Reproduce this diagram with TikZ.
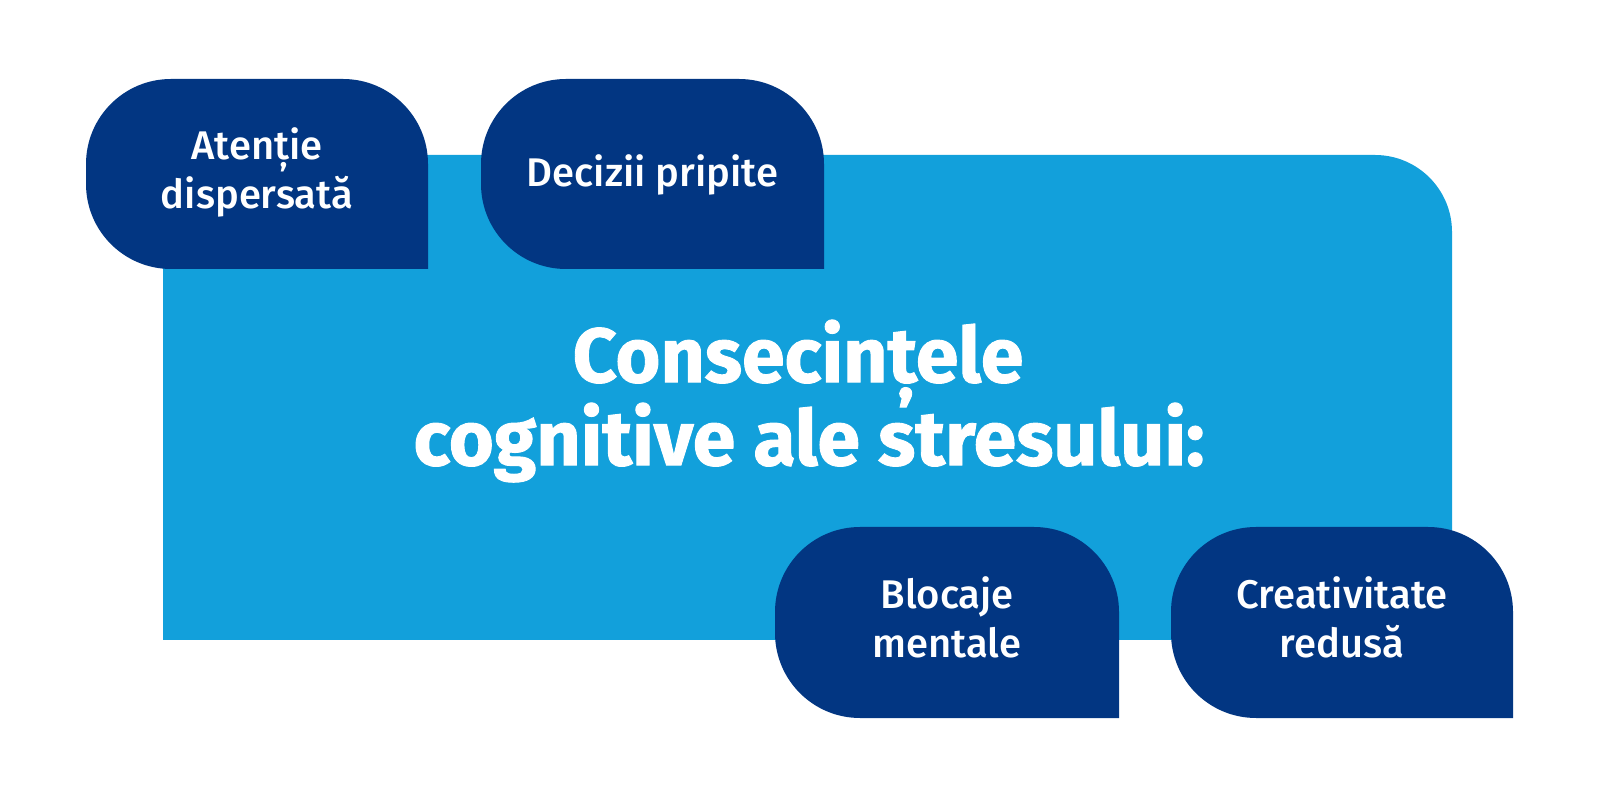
\documentclass[tikz,border=0pt]{standalone}
\usepackage{fontspec}
\setmainfont{Fira Sans}
\newfontfamily\smallfont{Fira Sans Medium}
\newfontfamily\titlefont{Fira Sans}[FakeBold=1.2]
\definecolor{lightblue}{HTML}{12A0DB}
\definecolor{darkblue}{HTML}{023682}
\newcommand{\sst}{\rule[-6pt]{0pt}{17pt}}
\newcommand{\tst}{\rule[-14pt]{0pt}{36pt}}
\tikzset{
  x=0.5pt, y=0.5pt,
  itemtext/.style={text=white, align=center, font=\smallfont\fontsize{20}{24.5}\selectfont, inner sep=0pt},
  titletext/.style={text=white, font=\titlefont\bfseries\fontsize{38.5}{38.5}\selectfont, inner sep=0pt},
}
% pill: left x, bottom y, width, height, radius
\newcommand{\pillshape}[5]{%
  \fill[darkblue] (#1+#3,#2) -- (#1+#5,#2)
    arc[start angle=270, end angle=180, radius=#5]
    -- (#1,#2+#4-#5)
    arc[start angle=180, end angle=90, radius=#5]
    -- (#1+#3-#5,#2+#4)
    arc[start angle=90, end angle=0, radius=#5]
    -- cycle;}
\begin{document}
\begin{tikzpicture}
\useasboundingbox (0,0) rectangle (1600,787);
% main light blue panel
\fill[lightblue] (163,147) -- (163,632) -- (1452-77,632)
  arc[start angle=90, end angle=0, radius=77] -- (1452,147) -- cycle;
% dark pills
\pillshape{86}{518}{342}{190}{85}
\pillshape{481}{518}{343}{190}{85}
\pillshape{775}{69}{344}{191}{85}
\pillshape{1171}{69}{342}{191}{85}
% texts
\node[itemtext] (t1) at (257,612.5) {\sst Atenție\\\sst dispersată};
\node[itemtext] (t2) at (652.5,610.5) {\sst Decizii pripite};
\node[itemtext] (t3) at (947,164) {\sst Blocaje\\\sst mentale};
\node[itemtext] (t4) at (1342,164) {\sst Creativitate\\\sst redusă};
\node[titletext] (title1) at (798,422) {\tst Consecințele};
\node[titletext] (title2) at (809,339) {\tst cognitive ale stresului:};
\end{tikzpicture}
\end{document}
